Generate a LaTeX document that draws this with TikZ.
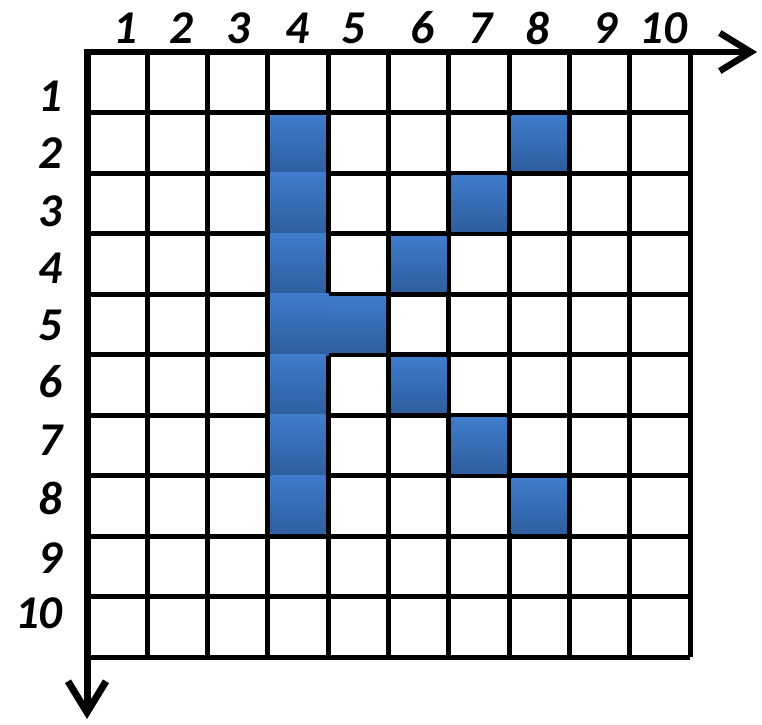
\documentclass[tikz,border=0pt]{standalone}
\usepackage{fontspec}
\setmainfont{Carlito}
\usetikzlibrary{arrows.meta}
\definecolor{bluetop}{HTML}{3F7CCB}
\definecolor{bluebot}{HTML}{2E5E9E}
\begin{document}
\begin{tikzpicture}[x=1pt,y=-1pt,
  gridline/.style={line width=5pt},
  axisline/.style={line width=7pt,-{Straight Barb[length=31pt,width=38pt]}},
  lab/.style={font=\fontsize{47}{47}\selectfont\bfseries\itshape,inner sep=0pt}]
\useasboundingbox (0,0) rectangle (762,724);
\fill[white] (0,0) rectangle (762,724);
% grid lines
\foreach \j in {1,...,10}{
  \pgfmathsetmacro\yy{52+60.5*\j}
  \draw[gridline] (87,\yy) -- (690,\yy);
}
\foreach \i in {1,...,10}{
  \pgfmathsetmacro\xx{87+60.3*\i}
  \draw[gridline] (\xx,52) -- (\xx,657);
}
% blue cells: row/col/up/down/left/right neighbours
\foreach \r/\c/\U/\D/\L/\R in {2/4/0/1/0/0,3/4/1/1/0/0,4/4/1/1/0/0,5/4/1/1/0/1,6/4/1/1/0/0,7/4/1/1/0/0,8/4/1/0/0/0,5/5/0/0/1/0,2/8/0/0/0/0,3/7/0/0/0/0,4/6/0/0/0/0,6/6/0/0/0/0,7/7/0/0/0/0,8/8/0/0/0/0}{
  \pgfmathsetmacro\xl{87+60.3*(\c-1)+2.5-3*\L}
  \pgfmathsetmacro\xr{87+60.3*\c-2.5+3*\R}
  \pgfmathsetmacro\yt{52+60.5*(\r-1)+2.5-3*\U}
  \pgfmathsetmacro\yb{52+60.5*\r-2.5+3*\D}
  \shade[top color=bluetop,bottom color=bluebot] (\xl,\yt) rectangle (\xr,\yb);
}
% axes
\coordinate (origin) at (87,52);
\coordinate (xstart) at (84,52);
\coordinate (ystart) at (87,49);
\coordinate (xend) at (757,52);
\coordinate (yend) at (87,719);
\draw[axisline,line width=6.5pt] (xstart) -- (xend);
\draw[axisline] (ystart) -- (yend);
% column labels
\foreach \n/\x in {1/125,2/181,3/238,4/297,5/353,6/422,7/480,8/537,9/605,10/663}{
  \node[lab] (col\n) at (\x,28) {\n};
}
% row labels
\foreach \n/\y in {1/96,2/153,3/211,4/268,5/325,6/382,7/440,8/498,9/558,10/613}{
  \node[lab,anchor=east] (row\n) at (63,\y) {\n};
}
\end{tikzpicture}
\end{document}
